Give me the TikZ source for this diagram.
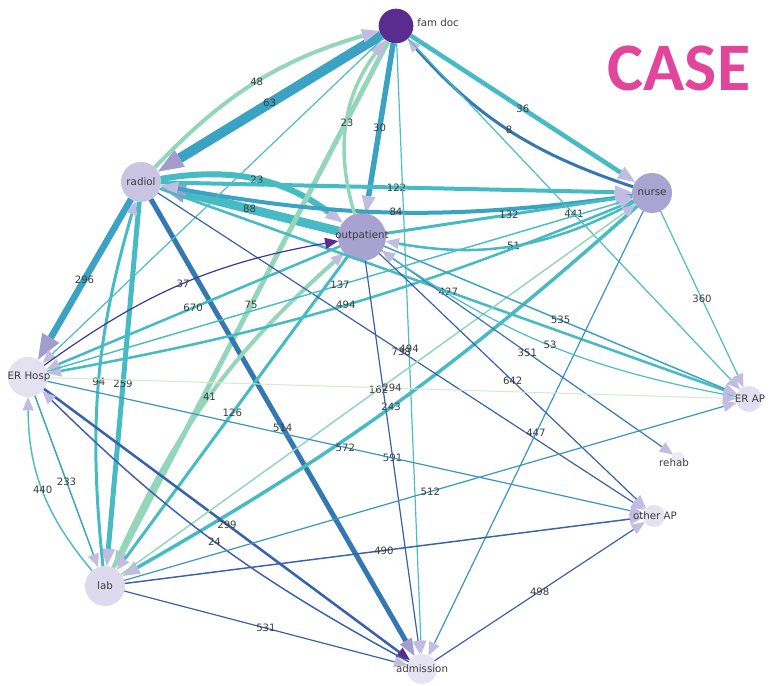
\documentclass[tikz,border=0pt]{standalone}
\usepackage{fontspec}
\setmainfont{DejaVu Sans}
\newfontfamily\casefont{Carlito}
\usetikzlibrary{arrows.meta}

% node fills
\definecolor{famc}{HTML}{5A2C92}
\definecolor{radc}{HTML}{C8C4E2}
\definecolor{nursec}{HTML}{A9A4D1}
\definecolor{outc}{HTML}{A7A2CF}
\definecolor{erhc}{HTML}{E4E2F1}
\definecolor{erac}{HTML}{E2E0F0}
\definecolor{rehc}{HTML}{ECEAF5}
\definecolor{othc}{HTML}{E4E2F1}
\definecolor{labc}{HTML}{DDDAED}
\definecolor{admc}{HTML}{E6E4F2}
% edge colours
\definecolor{lg}{HTML}{93D6B9}
\definecolor{tl}{HTML}{47BBC4}
\definecolor{tb}{HTML}{3AA2C2}
\definecolor{bl}{HTML}{3478B2}
\definecolor{db}{HTML}{3A62AA}
\definecolor{ind}{HTML}{3C3A96}
\definecolor{vlg}{HTML}{D2ECC8}
\definecolor{tt}{HTML}{4CBEC3}
\definecolor{mb}{HTML}{3A96C1}
% arrow tips and text
\definecolor{lav}{HTML}{C2BDE0}
\definecolor{lavm}{HTML}{A39DCD}
\definecolor{dpur}{HTML}{5B2A92}
\definecolor{lblc}{HTML}{3C3C3C}
\definecolor{casepink}{HTML}{E2469A}

\tikzset{
  nd/.style={circle, inner sep=0pt, outer sep=0pt, minimum size=#1},
  ntext/.style={font=\fontsize{7.7}{9}\selectfont, text=lblc, inner sep=0pt},
  lbl/.style={midway, font=\fontsize{7.6}{9}\selectfont, text=lblc, inner sep=0pt},
  ed/.style 2 args={draw=#1, line width=#2},
  tipS/.style={-{Triangle[length=10pt,width=8.5pt,line width=0pt,color=#1]}},
  tipM/.style={-{Triangle[length=13pt,width=10.5pt,line width=0pt,color=#1]}},
  tipL/.style={-{Triangle[length=19pt,width=15pt,line width=0pt,color=#1]}},
  tipS/.default=lav, tipM/.default=lav, tipL/.default=lavm
}

\begin{document}
\begin{tikzpicture}[x=0.75pt, y=0.75pt]
\fill[white] (0,0) rectangle (770,685);
\useasboundingbox (0,0) rectangle (770,685);

% circles
\node[nd=26pt, fill=famc]   (F) at (396,659) {};
\node[nd=30pt, fill=radc]   (R) at (141,503) {};
\node[nd=30pt, fill=nursec] (N) at (652,492) {};
\node[nd=36pt, fill=outc]   (O) at (362,448) {};
\node[nd=30pt, fill=erhc]   (E) at (28,308) {};
\node[nd=19.5pt, fill=erac] (A) at (749,286) {};
\node[nd=9pt, fill=rehc]    (H) at (678,227) {};
\node[nd=16.5pt, fill=othc] (P) at (654,169) {};
\node[nd=30pt, fill=labc]   (L) at (105,99) {};
\node[nd=22.5pt, fill=admc] (D) at (422,16) {};

% heavy connectors
\draw[ed={tb}{7.5pt}, tipL] (F) -- node[lbl]{63} (R);
\draw[ed={tl}{6.75pt}, tipL] (O) -- node[lbl]{88} (R);
\draw[ed={tb}{4.9pt}, tipL] (R) -- node[lbl]{296} (E);
\draw[ed={tl}{4.5pt}, tipM] (R) to[bend left=23] node[lbl]{23} (O);
\draw[ed={tb}{4.1pt}, tipM] (F) -- node[lbl]{30} (O);
\draw[ed={lg}{3.75pt}, tipM] (F) -- node[lbl]{75} (L);
\draw[ed={tl}{3.75pt}, tipM] (R) -- node[lbl]{259} (L);
\draw[ed={bl}{3.75pt}, tipM=lavm] (R) -- node[lbl]{514} (D);
\draw[ed={tl}{3.4pt}, tipM] (F) -- node[lbl]{36} (N);
\draw[ed={lg}{3pt}, tipM] (R) to[bend left=15] node[lbl]{48} (F);
\draw[ed={tl}{3pt}, tipM] (R) -- node[lbl]{122} (N);
\draw[ed={tb}{3pt}, tipM] (N) to[bend left=9] node[lbl]{84} (R);
\draw[ed={lg}{3pt}, tipS] (L) to[bend left=12] node[lbl]{41} (O);
\draw[ed={lg}{2.6pt}, tipM] (O) to[bend left=27] node[lbl]{23} (F);
\draw[ed={tl}{2.6pt}, tipM] (N) to[bend left=6] node[lbl]{243} (L);

% medium connectors
\draw[ed={bl}{2.25pt}, tipS] (N) to[bend left=15] node[lbl]{8} (F);
\draw[ed={tl}{2.25pt}, tipM] (O) -- node[lbl]{132} (N);
\draw[ed={tl}{2.25pt}, tipS] (L) to[bend left=11] node[lbl]{94} (R);
\draw[ed={tl}{2.25pt}, tipS] (O) -- node[lbl]{126} (L);
\draw[ed={tl}{1.9pt}, tipS] (R) -- node[lbl]{427} (A);
\draw[ed={tl}{1.9pt}, tipS] (N) to[bend left=19] node[lbl]{51} (O);
\draw[ed={tl}{1.9pt}, tipS] (N) to[bend left=6] node[lbl]{494} (E);
\draw[ed={tl}{1.9pt}, tipS] (O) -- node[lbl]{670} (E);
\draw[ed={db}{1.9pt}, tipS=dpur] (E) -- node[lbl]{299} (D);

% light connectors
\draw[ed={tt}{0.9pt}, tipS] (F) -- node[lbl]{441} (A);
\draw[ed={tt}{0.9pt}, tipS] (F) -- node[lbl]{494} (D);
\draw[ed={tt}{0.9pt}, tipS] (F) -- (E);
\draw[ed={db}{0.9pt}, tipS] (R) -- node[lbl]{738} (P);
\draw[ed={tt}{1.1pt}, tipS] (E) -- node[lbl]{137} (N);
\draw[ed={lg}{1.1pt}, tipS] (L) -- node[lbl]{162} (N);
\draw[ed={tt}{0.9pt}, tipS] (N) -- node[lbl]{360} (A);
\draw[ed={mb}{0.9pt}, tipS] (N) -- node[lbl]{447} (D);
\draw[ed={ind}{0.9pt}, tipS=dpur] (E) to[bend left=13] node[lbl]{37} (O);
\draw[ed={db}{0.9pt}, tipS] (O) -- node[lbl]{591} (D);
\draw[ed={db}{0.9pt}, tipS] (O) -- node[lbl]{642} (P);
\draw[ed={bl}{0.9pt}, tipS] (O) -- node[lbl]{351} (H);
\draw[ed={tb}{1.1pt}, tipS] (O) -- node[lbl]{535} (A);
\draw[ed={tt}{0.9pt}, tipS] (A) to[bend left=12] node[lbl]{53} (O);
\draw[ed={tb}{1.1pt}, tipS] (E) -- node[lbl]{233} (L);
\draw[ed={tt}{1.1pt}, tipS] (L) to[bend left=20] node[lbl]{440} (E);
\draw[ed={db}{1.1pt}, tipS] (D) to[bend left=8] node[lbl]{24} (E);
\draw[ed={vlg}{0.75pt}, tipS] (E) -- node[lbl]{294} (A);
\draw[ed={mb}{0.9pt}, tipS] (E) -- node[lbl]{572} (P);
\draw[ed={mb}{0.9pt}, tipS] (L) -- node[lbl]{512} (A);
\draw[ed={db}{1.1pt}, tipS] (L) -- node[lbl]{490} (P);
\draw[ed={db}{0.9pt}, tipS] (L) -- node[lbl]{531} (D);
\draw[ed={db}{0.9pt}, tipS] (D) -- node[lbl]{498} (P);

% node names
\node[ntext, anchor=west] (Ft) at (417,662) {fam doc};
\node[ntext] (Rt) at (R) {radiol};
\node[ntext] (Nt) at (N) {nurse};
\node[ntext] (Ot) at (362,449) {outpatient};
\node[ntext] (Et) at (29,308) {ER Hosp};
\node[ntext] (At) at (750,286) {ER AP};
\node[ntext] (Ht) at (674,222) {rehab};
\node[ntext] (Pt) at (655,169) {other AP};
\node[ntext] (Lt) at (L) {lab};
\node[ntext] (Dt) at (422,16) {admission};

% title
\node[font=\casefont\bfseries\fontsize{51}{51}\selectfont, text=casepink, inner sep=0pt] (case) at (679,617) {CASE};
\end{tikzpicture}
\end{document}
